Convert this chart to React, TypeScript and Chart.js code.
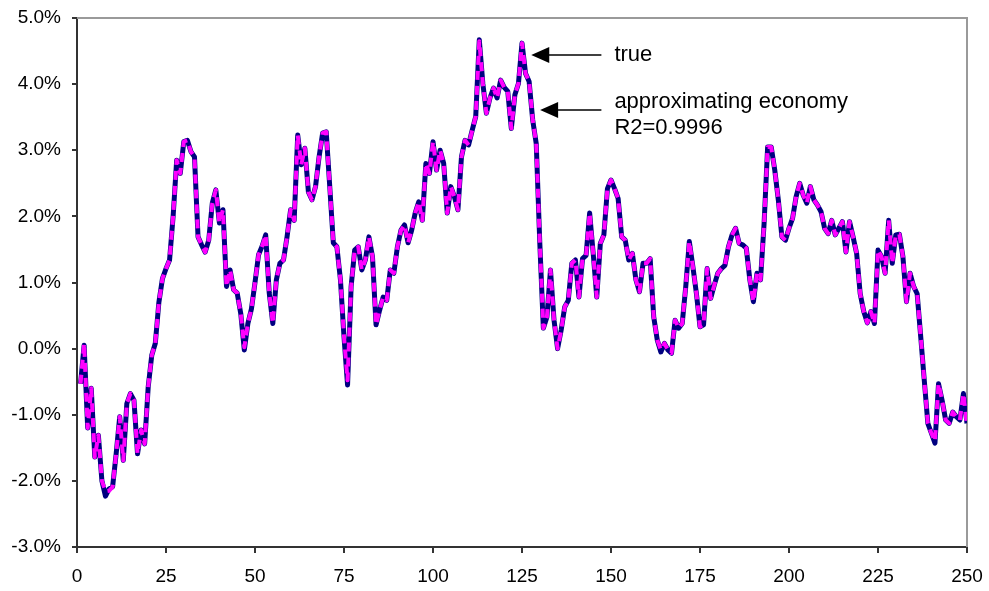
import React, { useEffect, useRef } from "react";
import { Chart, registerables } from "chart.js";

Chart.register(...registerables);

// Period index (1..250) on the horizontal axis
const periods: number[] = Array.from({ length: 250 }, (_, i) => i + 1);

// True series, in percent
const trueValues: number[] = [
  -0.53, 0.05, -1.2, -0.6, -1.64, -1.31, -2.0, -2.23, -2.12, -2.09,
  -1.59, -1.03, -1.69, -0.83, -0.68, -0.78, -1.59, -1.23, -1.44, -0.58,
  -0.1, 0.08, 0.7, 1.06, 1.21, 1.34, 2.0, 2.85, 2.65, 3.13,
  3.15, 2.98, 2.9, 1.69, 1.57, 1.46, 1.64, 2.2, 2.4, 1.9,
  2.1, 0.94, 1.19, 0.89, 0.84, 0.53, -0.02, 0.38, 0.6, 1.0,
  1.42, 1.55, 1.72, 0.84, 0.38, 1.04, 1.29, 1.34, 1.69, 2.1,
  1.94, 3.23, 2.78, 3.03, 2.37, 2.25, 2.45, 2.9, 3.26, 3.28,
  2.45, 1.6, 1.54, 1.04, 0.18, -0.55, 0.94, 1.49, 1.54, 1.19,
  1.34, 1.69, 1.39, 0.36, 0.58, 0.78, 0.73, 1.19, 1.14, 1.54,
  1.79, 1.87, 1.6, 1.79, 2.05, 2.22, 1.94, 2.8, 2.65, 3.13,
  2.7, 3.0, 2.8, 2.05, 2.45, 2.3, 2.1, 2.9, 3.15, 3.08,
  3.3, 3.51, 4.67, 4.01, 3.56, 3.79, 3.94, 3.79, 4.06, 3.95,
  3.89, 3.33, 3.84, 4.01, 4.62, 4.16, 4.04, 3.46, 3.1, 1.6,
  0.31, 0.48, 1.19, 0.43, 0.0, 0.28, 0.63, 0.73, 1.29, 1.34,
  0.78, 1.36, 1.41, 2.05, 1.44, 0.78, 1.59, 1.72, 2.42, 2.55,
  2.42, 2.27, 1.69, 1.64, 1.34, 1.44, 1.04, 0.86, 1.29, 1.29,
  1.36, 0.48, 0.13, -0.05, 0.08, -0.02, -0.07, 0.43, 0.31, 0.38,
  0.94, 1.62, 1.24, 0.83, 0.33, 0.36, 1.21, 0.76, 0.96, 1.14,
  1.21, 1.26, 1.54, 1.72, 1.82, 1.59, 1.57, 1.52, 1.04, 0.71,
  1.14, 1.04, 1.89, 3.05, 3.05, 2.7, 2.25, 1.69, 1.64, 1.82,
  1.97, 2.3, 2.5, 2.32, 2.2, 2.45, 2.25, 2.17, 2.07, 1.82,
  1.74, 1.94, 1.72, 1.82, 1.92, 1.46, 1.92, 1.69, 1.44, 0.83,
  0.56, 0.39, 0.56, 0.38, 1.49, 1.39, 1.14, 1.94, 1.29, 1.72,
  1.73, 1.39, 0.71, 1.14, 0.94, 0.83, 0.18, -0.48, -1.13, -1.28,
  -1.43, -0.53, -0.78, -1.08, -1.13, -0.96, -1.03, -1.08, -0.68, -1.13,
];

// Approximating-economy series, in percent
const approxValues: number[] = [
  -0.53, 0.08, -1.2, -0.6, -1.64, -1.31, -2.0, -2.16, -2.15, -2.09,
  -1.59, -1.03, -1.69, -0.83, -0.68, -0.78, -1.59, -1.23, -1.44, -0.58,
  -0.1, 0.08, 0.7, 1.06, 1.21, 1.34, 2.0, 2.85, 2.65, 3.13,
  3.15, 2.98, 2.9, 1.69, 1.57, 1.46, 1.64, 2.2, 2.4, 1.9,
  2.1, 0.94, 1.19, 0.89, 0.84, 0.53, 0.02, 0.38, 0.6, 1.0,
  1.42, 1.55, 1.72, 0.84, 0.38, 1.04, 1.29, 1.34, 1.69, 2.1,
  1.94, 3.23, 2.78, 3.03, 2.37, 2.25, 2.45, 2.9, 3.26, 3.28,
  2.45, 1.6, 1.54, 1.04, 0.18, -0.48, 0.94, 1.49, 1.54, 1.19,
  1.34, 1.69, 1.39, 0.36, 0.58, 0.78, 0.73, 1.19, 1.14, 1.54,
  1.79, 1.87, 1.6, 1.79, 2.05, 2.22, 1.94, 2.8, 2.65, 3.13,
  2.7, 3.0, 2.8, 2.05, 2.45, 2.3, 2.1, 2.9, 3.15, 3.08,
  3.3, 3.51, 4.65, 4.01, 3.56, 3.79, 3.94, 3.79, 4.06, 3.95,
  3.89, 3.33, 3.84, 4.01, 4.62, 4.16, 4.04, 3.46, 3.1, 1.6,
  0.31, 0.48, 1.19, 0.43, 0.0, 0.28, 0.63, 0.73, 1.29, 1.34,
  0.78, 1.36, 1.41, 2.05, 1.44, 0.78, 1.59, 1.72, 2.42, 2.55,
  2.42, 2.27, 1.69, 1.64, 1.34, 1.44, 1.04, 0.86, 1.29, 1.29,
  1.36, 0.48, 0.13, -0.02, 0.08, -0.02, -0.07, 0.43, 0.31, 0.38,
  0.94, 1.62, 1.24, 0.83, 0.33, 0.36, 1.21, 0.76, 0.96, 1.14,
  1.21, 1.26, 1.54, 1.72, 1.82, 1.59, 1.57, 1.52, 1.04, 0.71,
  1.14, 1.04, 1.89, 3.05, 3.05, 2.7, 2.25, 1.69, 1.64, 1.82,
  1.97, 2.3, 2.5, 2.32, 2.2, 2.45, 2.25, 2.17, 2.07, 1.82,
  1.74, 1.94, 1.72, 1.82, 1.92, 1.46, 1.92, 1.69, 1.44, 0.83,
  0.56, 0.39, 0.56, 0.38, 1.49, 1.39, 1.14, 1.94, 1.29, 1.72,
  1.73, 1.39, 0.71, 1.14, 0.94, 0.83, 0.18, -0.48, -1.13, -1.28,
  -1.4, -0.53, -0.78, -1.08, -1.13, -0.96, -1.03, -1.08, -0.68, -1.18,
];

// Axis tick labels
const xTickValues: number[] = [0, 25, 50, 75, 100, 125, 150, 175, 200, 225, 250];
const yTickValues: number[] = [-3, -2, -1, 0, 1, 2, 3, 4, 5];

// Callout labels and where their arrows point (period, percent)
const calloutLabels: string[][] = [["true"], ["approximating economy", "R2=0.9996"]];
const calloutTips: number[][] = [[127.6, 4.44], [130.1, 3.61]];
const calloutTails: number[][] = [[147.3, 4.44], [147.3, 3.61]];

const FONT = "'Liberation Sans', Arial, Helvetica, sans-serif";

const decorations = {
  id: "decorations",
  beforeDatasetsDraw(chart: any) {
    const { ctx, chartArea } = chart;
    ctx.save();
    ctx.strokeStyle = "#9a9a9a";
    ctx.lineWidth = 2;
    ctx.beginPath();
    ctx.moveTo(chartArea.left, chartArea.top);
    ctx.lineTo(chartArea.right, chartArea.top);
    ctx.lineTo(chartArea.right, chartArea.bottom);
    ctx.stroke();
    ctx.restore();
  },
  afterDraw(chart: any) {
    const { ctx } = chart;
    const xs = chart.scales.x;
    const ys = chart.scales.y;
    ctx.save();
    calloutLabels.forEach((lines, i) => {
      const tipX = xs.getPixelForValue(calloutTips[i][0]);
      const tipY = ys.getPixelForValue(calloutTips[i][1]);
      const tailX = xs.getPixelForValue(calloutTails[i][0]);
      const headLen = 18;
      const headHalf = 8;
      ctx.strokeStyle = "#000";
      ctx.fillStyle = "#000";
      ctx.lineWidth = 1.5;
      ctx.beginPath();
      ctx.moveTo(tipX + headLen - 1, tipY);
      ctx.lineTo(tailX, tipY);
      ctx.stroke();
      ctx.beginPath();
      ctx.moveTo(tipX, tipY);
      ctx.lineTo(tipX + headLen, tipY - headHalf);
      ctx.lineTo(tipX + headLen, tipY + headHalf);
      ctx.closePath();
      ctx.fill();
      ctx.font = `22px ${FONT}`;
      ctx.textAlign = "left";
      ctx.textBaseline = "middle";
      const textX = tailX + 13;
      const startY = lines.length === 1 ? tipY : tipY - 8;
      lines.forEach((ln, k) => {
        ctx.fillText(ln, textX, startY + k * 26);
      });
    });
    ctx.restore();
  },
};

export default function App() {
  const canvasRef = useRef<HTMLCanvasElement | null>(null);

  useEffect(() => {
    const canvas = canvasRef.current;
    if (!canvas) return;
    const chart = new Chart(canvas, {
      type: "line",
      data: {
        datasets: [
          {
            label: "approximating economy",
            data: periods.map((p, i) => ({ x: p, y: approxValues[i] })),
            borderColor: "#ff00ff",
            borderWidth: 4,
            borderDash: [9, 6],
            borderJoinStyle: "round",
            borderCapStyle: "butt",
            pointRadius: 0,
            tension: 0,
            fill: false,
            order: 0,
          },
          {
            label: "true",
            data: periods.map((p, i) => ({ x: p, y: trueValues[i] })),
            borderColor: "#000080",
            borderWidth: 5,
            borderJoinStyle: "round",
            pointRadius: 0,
            tension: 0,
            fill: false,
            order: 1,
          },
        ],
      },
      options: {
        responsive: false,
        animation: false,
        events: [],
        layout: { autoPadding: false, padding: { top: 18, right: 22, left: 0, bottom: 0 } },
        plugins: {
          legend: { display: false },
          tooltip: { enabled: false },
        },
        scales: {
          x: {
            type: "linear",
            min: 0,
            max: 250,
            afterFit: (s: any) => {
              s.height = 44;
              s.paddingLeft = 0;
              s.paddingRight = 0;
            },
            afterBuildTicks: (s: any) => {
              s.ticks = xTickValues.map((v) => ({ value: v }));
            },
            ticks: {
              color: "#000",
              font: { family: FONT, size: 19 },
              padding: 12,
              maxRotation: 0,
              autoSkip: false,
            },
            grid: {
              drawOnChartArea: false,
              drawTicks: true,
              tickLength: 6,
              color: "#333",
              lineWidth: 2,
            },
            border: { display: true, color: "#333", width: 2 },
          },
          y: {
            type: "linear",
            min: -3,
            max: 5,
            afterFit: (s: any) => {
              s.width = 77;
              s.paddingTop = 0;
              s.paddingBottom = 0;
            },
            afterBuildTicks: (s: any) => {
              s.ticks = yTickValues.map((v) => ({ value: v }));
            },
            ticks: {
              color: "#000",
              font: { family: FONT, size: 19 },
              padding: 11,
              callback: (v: any) => Number(v).toFixed(1) + "%",
            },
            grid: {
              drawOnChartArea: false,
              drawTicks: true,
              tickLength: 5,
              color: "#333",
              lineWidth: 2,
            },
            border: { display: true, color: "#333", width: 2 },
          },
        },
      },
      plugins: [decorations],
    });
    return () => chart.destroy();
  }, []);

  return (
    <div style={{ position: "absolute", left: 0, top: 0, width: 989, height: 591, background: "#fff" }}>
      <canvas ref={canvasRef} width={989} height={591} style={{ display: "block" }} />
    </div>
  );
}
